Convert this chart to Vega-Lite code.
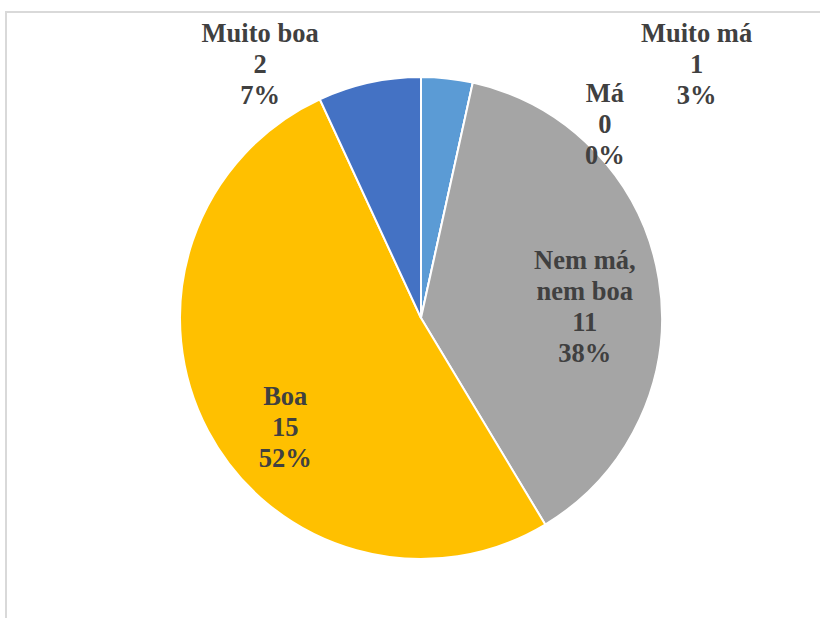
{
  "$schema": "https://vega.github.io/schema/vega-lite/v6.json",
  "width": 830,
  "height": 612,
  "autosize": "none",
  "padding": {"left": 6, "top": 12, "right": 0, "bottom": 0},
  "background": "white",
  "view": {"stroke": "#D9D9D9", "strokeWidth": 2},
  "config": {"view": {"stroke": "#D9D9D9", "strokeWidth": 2}},
  "data": {"values": [
    {"categoria": "Muito má", "n": 1, "pct": "3%", "ordem": 1, "rotulo": "Muito má\n1\n3%"},
    {"categoria": "Má", "n": 0, "pct": "0%", "ordem": 2, "rotulo": "Má\n0\n0%"},
    {"categoria": "Nem má, nem boa", "n": 11, "pct": "38%", "ordem": 3, "rotulo": "Nem má,\nnem boa\n11\n38%"},
    {"categoria": "Boa", "n": 15, "pct": "52%", "ordem": 4, "rotulo": "Boa\n15\n52%"},
    {"categoria": "Muito boa", "n": 2, "pct": "7%", "ordem": 5, "rotulo": "Muito boa\n2\n7%"}
  ]},
  "encoding": {
    "theta": {"field": "n", "type": "quantitative", "stack": true},
    "order": {"field": "ordem", "type": "quantitative"}
  },
  "layer": [
    {
      "mark": {"type": "arc", "outerRadius": 241, "stroke": "white", "strokeWidth": 2},
      "encoding": {
        "color": {
          "field": "categoria", "type": "nominal", "legend": null,
          "scale": {
            "domain": ["Muito má", "Má", "Nem má, nem boa", "Boa", "Muito boa"],
            "range": ["#5B9BD5", "#ED7D31", "#A5A5A5", "#FFC000", "#4472C4"]
          }
        }
      }
    },
    {
      "mark": {"type": "text", "font": "Liberation Serif", "fontWeight": "bold", "fontSize": 26.5, "lineHeight": 31, "lineBreak": "\n", "color": "#404040", "align": "center", "baseline": "middle", "dx": 2, "dy": -30},
      "encoding": {
        "radius": {"value": 164},
        "text": {"condition": {"test": "datum.categoria === 'Nem má, nem boa'", "field": "rotulo"}, "value": ""}
      }
    },
    {
      "mark": {"type": "text", "font": "Liberation Serif", "fontWeight": "bold", "fontSize": 26.5, "lineHeight": 31, "lineBreak": "\n", "color": "#404040", "align": "center", "baseline": "middle", "dx": 18, "dy": -3},
      "encoding": {
        "radius": {"value": 174},
        "text": {"condition": {"test": "datum.categoria === 'Boa'", "field": "rotulo"}, "value": ""}
      }
    },
    {
      "mark": {"type": "text", "font": "Liberation Serif", "fontWeight": "bold", "fontSize": 26.5, "lineHeight": 31, "lineBreak": "\n", "color": "#404040", "align": "center", "baseline": "middle", "dx": -105, "dy": -30},
      "encoding": {
        "radius": {"value": 260},
        "text": {"condition": {"test": "datum.categoria === 'Muito boa'", "field": "rotulo"}, "value": ""}
      }
    },
    {
      "mark": {"type": "text", "font": "Liberation Serif", "fontWeight": "bold", "fontSize": 26.5, "lineHeight": 31, "lineBreak": "\n", "color": "#404040", "align": "center", "baseline": "middle", "dx": 248, "dy": -30},
      "encoding": {
        "radius": {"value": 255},
        "text": {"condition": {"test": "datum.categoria === 'Muito má'", "field": "rotulo"}, "value": ""}
      }
    },
    {
      "mark": {"type": "text", "font": "Liberation Serif", "fontWeight": "bold", "fontSize": 26.5, "lineHeight": 31, "lineBreak": "\n", "color": "#404040", "align": "center", "baseline": "middle", "dx": 142, "dy": -34},
      "encoding": {
        "radius": {"value": 195},
        "text": {"condition": {"test": "datum.categoria === 'Má'", "field": "rotulo"}, "value": ""}
      }
    }
  ]
}
